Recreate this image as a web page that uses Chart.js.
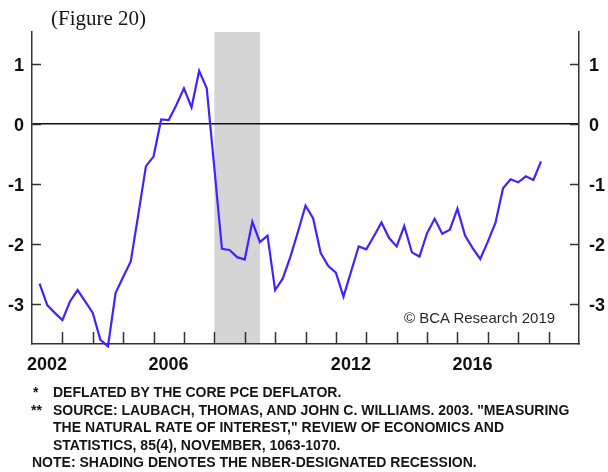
<!DOCTYPE html>
<html>
<head>
<meta charset="utf-8">
<script src="https://cdn.jsdelivr.net/npm/chart.js@4/dist/chart.umd.min.js"></script>
<style>
  body { margin: 0; background: #fff; }
  #wrap { position: relative; width: 608px; height: 472px; overflow: hidden; }
  #chart { position: absolute; left: 0; top: 0; }
  .txt { position: absolute; white-space: nowrap; color: #151515; }
  #title { left: 51px; top: 8px; font: 21px/1 "Liberation Serif", "Times New Roman", serif; }
  #credit { left: 404px; top: 310px; font: 15px/1 "Liberation Sans", Arial, sans-serif; color: #2a2a2a; }
  #notes { left: 0; top: 384px; font: bold 14px/17.5px "Liberation Sans", Arial, sans-serif; }
  #notes div { position: relative; height: 17.5px; }
  #notes span { position: absolute; }
</style>
</head>
<body>
<div id="wrap">
  <canvas id="chart" width="608" height="472"></canvas>
  <div class="txt" id="title">(Figure 20)</div>
  <div class="txt" id="credit">© BCA Research 2019</div>
  <div class="txt" id="notes">
    <div><span style="left:33px">*</span><span style="left:53px">DEFLATED BY THE CORE PCE DEFLATOR.</span></div>
    <div><span style="left:31px">**</span><span style="left:53px">SOURCE: LAUBACH, THOMAS, AND JOHN C. WILLIAMS. 2003. "MEASURING</span></div>
    <div><span style="left:53px">THE NATURAL RATE OF INTEREST," REVIEW OF ECONOMICS AND</span></div>
    <div><span style="left:53px">STATISTICS, 85(4), NOVEMBER, 1063-1070.</span></div>
    <div><span style="left:32px">NOTE: SHADING DENOTES THE NBER-DESIGNATED RECESSION.</span></div>
  </div>
</div>
<script>
// quarterly values, first one is 2002 Q2
const firstQuarter = 2002.25;
const rateGap = [
  -2.66, -3.02, -3.15, -3.27, -2.96, -2.77, -2.96, -3.15, -3.60, -3.71,
  -2.82, -2.55, -2.29, -1.50, -0.70, -0.54, 0.08, 0.07, 0.32, 0.60,
  0.28, 0.89, 0.60, -0.73, -2.08, -2.10, -2.22, -2.26, -1.63, -1.97,
  -1.86, -2.77, -2.58, -2.22, -1.80, -1.36, -1.57, -2.15, -2.37, -2.48,
  -2.88, -2.46, -2.04, -2.09, -1.87, -1.64, -1.90, -2.04, -1.70, -2.14,
  -2.21, -1.82, -1.58, -1.83, -1.76, -1.41, -1.86, -2.07, -2.25, -1.96,
  -1.65, -1.07, -0.92, -0.97, -0.87, -0.93, -0.62
];
const recession = [2008.0, 2009.5];
const labelYears = [2002, 2006, 2012, 2016];
const yTicks = [1, 0, -1, -2, -3];
const xRange = [2002, 2020];
const yRange = [-3.67, 1.54];

const axisColor = "#333";
const tickFont = { family: "'Liberation Sans', Arial, sans-serif", size: 18, weight: "bold" };

const framePlugin = {
  id: "frame",
  beforeDraw(chart) {
    const { ctx, chartArea: a, scales: { x } } = chart;
    const x0 = x.getPixelForValue(recession[0]);
    const x1 = x.getPixelForValue(recession[1]);
    ctx.save();
    ctx.fillStyle = "#d5d5d5";
    ctx.fillRect(x0, a.top, x1 - x0, a.bottom - a.top);
    ctx.restore();
  },
  afterDraw(chart) {
    const { ctx, chartArea: a, scales: { x, y } } = chart;
    ctx.save();
    ctx.strokeStyle = axisColor;
    ctx.lineWidth = 1.5;
    ctx.beginPath();
    for (let yr = x.min + 1; yr < x.max; yr++) {
      const px = Math.round(x.getPixelForValue(yr)) + 0.5;
      ctx.moveTo(px, a.bottom);
      ctx.lineTo(px, a.bottom - 12);
    }
    yTicks.forEach(v => {
      const py = Math.round(y.getPixelForValue(v)) + 0.5;
      ctx.moveTo(a.left, py);
      ctx.lineTo(a.left + 9, py);
      ctx.moveTo(a.right, py);
      ctx.lineTo(a.right - 9, py);
    });
    ctx.stroke();
    ctx.restore();
  }
};

const yAxis = (position, width, padding) => ({
  type: "linear",
  position,
  min: yRange[0],
  max: yRange[1],
  afterBuildTicks: s => { s.ticks = yTicks.map(v => ({ value: v })); },
  afterFit: s => { s.width = width; },
  ticks: { color: "#111", font: tickFont, padding, labelOffset: 2 },
  grid: {
    drawTicks: false,
    drawOnChartArea: position === "left",
    color: c => (c.tick && c.tick.value === 0 ? "#111" : "transparent"),
    lineWidth: 1.5
  },
  border: { color: axisColor, width: 1.5 }
});

new Chart(document.getElementById("chart"), {
  type: "line",
  data: {
    datasets: [{
      data: rateGap.map((v, i) => ({ x: firstQuarter + i / 4, y: v })),
      borderColor: "#4422ff",
      borderWidth: 2.2,
      pointRadius: 0,
      tension: 0,
      clip: 4
    }]
  },
  plugins: [framePlugin],
  options: {
    responsive: false,
    animation: false,
    devicePixelRatio: 1,
    layout: { padding: { top: 32, left: 0, right: 0, bottom: 0 } },
    plugins: { legend: { display: false }, tooltip: { enabled: false } },
    scales: {
      x: {
        type: "linear",
        min: xRange[0],
        max: xRange[1],
        afterBuildTicks: s => { s.ticks = labelYears.map(v => ({ value: v })); },
        afterFit: s => { s.height = 128; },
        ticks: {
          color: "#111",
          font: tickFont,
          padding: 10,
          labelOffset: 15,
          maxRotation: 0,
          autoSkip: false,
          callback: v => String(v)
        },
        grid: { drawOnChartArea: false, drawTicks: false },
        border: { color: axisColor, width: 1.5 }
      },
      y: yAxis("left", 32, 8),
      y2: yAxis("right", 29, 10)
    }
  }
});
</script>
</body>
</html>
